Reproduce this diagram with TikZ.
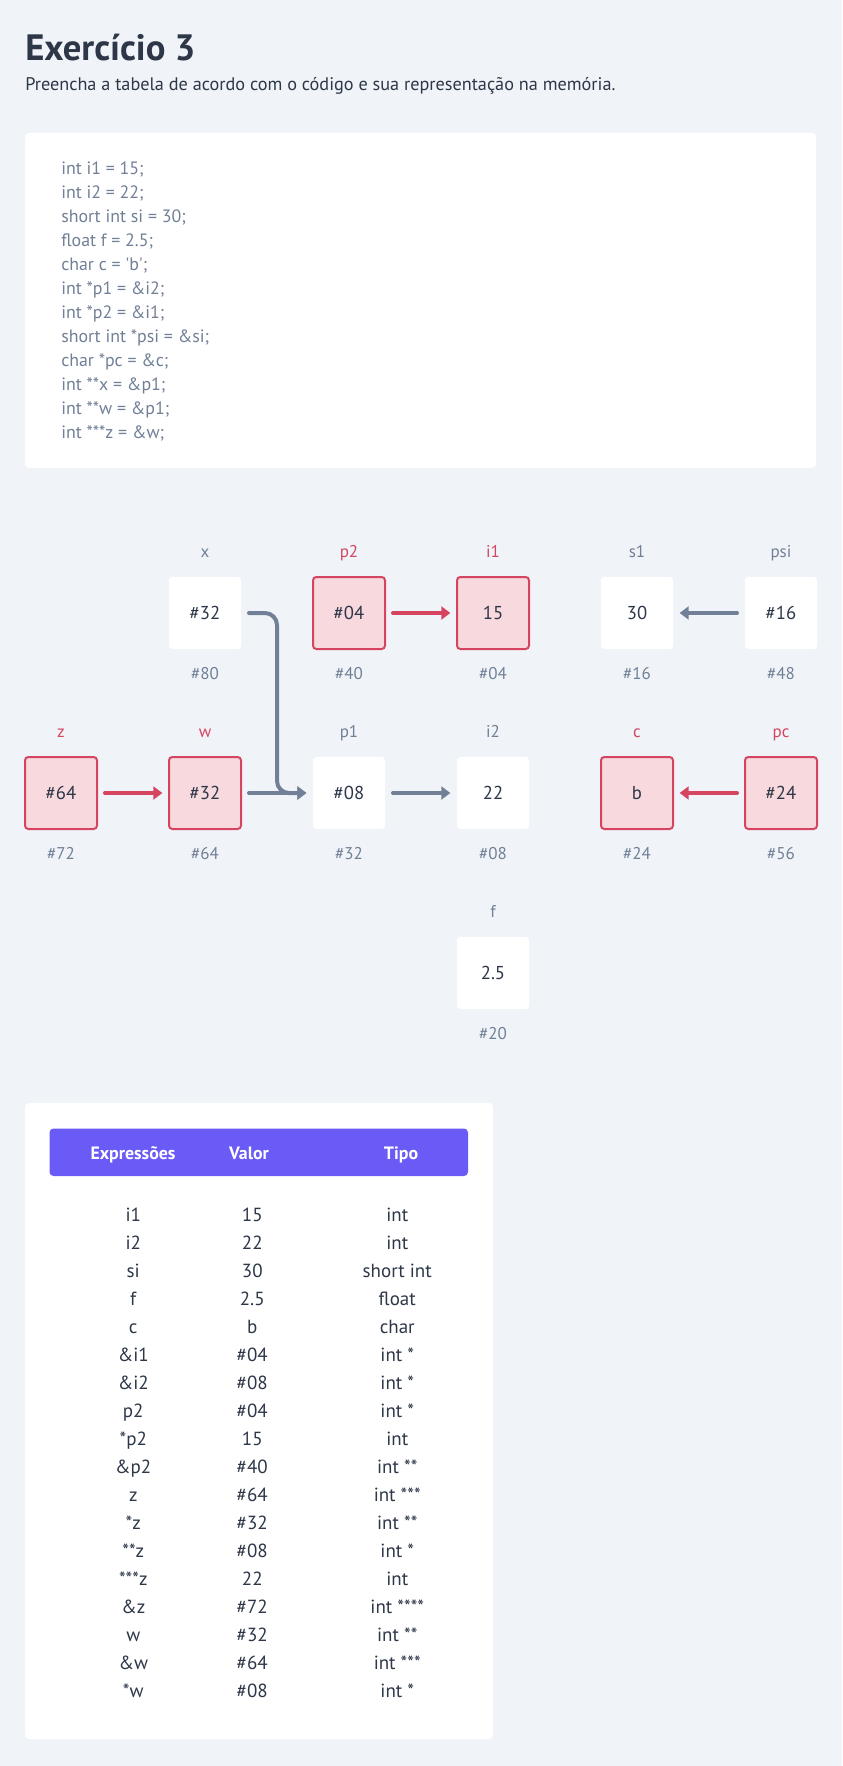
\documentclass[tikz,border=0pt]{standalone}
\usepackage{fontspec}
\setmainfont{PT Sans}
\usepackage{tikz}
\usetikzlibrary{arrows.meta,matrix,calc}
\usepackage{xcolor}
\definecolor{pagebg}{HTML}{F0F4F8}
\definecolor{ink}{HTML}{2D3748}
\definecolor{muted}{HTML}{718096}
\definecolor{alert}{HTML}{D64560}
\definecolor{alertfill}{HTML}{F7D9DE}
\definecolor{violet}{HTML}{6A5AF6}

\begin{document}
\begin{tikzpicture}[x=0.75pt, y=-0.75pt, label distance=13pt,
  >={Triangle[length=6.75pt,width=9.75pt]}]
\tikzstyle{card} = [fill=white, rounded corners=3pt]
\tikzstyle{cell} = [rectangle, fill=white, minimum size=54pt, inner sep=0pt,
outer sep=0pt, rounded corners=2.5pt, text=ink, font=\fontsize{14}{16}\selectfont]
\tikzstyle{hot} = [cell, draw=alert, line width=1.5pt, fill=alertfill]
\tikzstyle{every label} = [text=muted, inner sep=0pt, outer sep=0pt,
text height=9.5pt, text depth=1.8pt, font=\fontsize{12.75}{14}\selectfont]
\tikzstyle{redname} = [text=alert]
\tikzstyle{header} = [anchor=base, text=white, font=\bfseries\fontsize{13.4}{16}\selectfont]
\tikzstyle{line} = [draw=muted, line width=3pt, line cap=round, ->,
shorten <=6pt, shorten >=5pt]

\path [use as bounding box, fill=pagebg] (0,0) rectangle (842,1766);

% heading
\node (title) [anchor=base west, inner sep=0pt, text=ink,
  font=\bfseries\fontsize{27.5}{32}\selectfont] at (25,61) {Exercício 3};
\node (subtitle) [anchor=base west, inner sep=0pt, text=ink,
  font=\fontsize{13.67}{16}\selectfont] at (25,90.7)
  {Preencha a tabela de acordo com o código e sua representação na memória.};

% code
\fill [card] (25,133) rectangle (816,468);
\node (code) [anchor=north west, align=left, inner sep=0pt, text=muted,
  font=\fontsize{13.4}{18}\selectfont] at (61,162)
  {int i1 = 15;\\ int i2 = 22;\\ short int si = 30;\\ float f = 2.5;\\
   char c = \textquotesingle b\textquotesingle;\\ int *p1 = \&i2;\\ int *p2 = \&i1;\\
   short int *psi = \&si;\\ char *pc = \&c;\\ int **x = \&p1;\\
   int **w = \&p1;\\ int ***z = \&w;};

% memory
\matrix (mem) [anchor=north west, inner sep=0pt, outer sep=0pt,
  column sep=52.5pt, row sep=32.4pt] at (24,544.6)
{
% row 1
 & \node [cell, label=above:x, label=below:\#80] (x) {\#32};
 & \node [hot, label={[redname]above:p2}, label=below:\#40] (p2) {\#04};
 & \node [hot, label={[redname]above:i1}, label=below:\#04] (i1) {15};
 & \node [cell, label=above:s1, label=below:\#16] (s1) {30};
 & \node [cell, label=above:psi, label=below:\#48] (psi) {\#16}; \\
% row 2
\node [hot, label={[redname]above:z}, label=below:\#72] (z) {\#64};
 & \node [hot, label={[redname]above:w}, label=below:\#64] (w) {\#32};
 & \node [cell, label=above:p1, label=below:\#32] (p1) {\#08};
 & \node [cell, label=above:i2, label=below:\#08] (i2) {22};
 & \node [hot, label={[redname]above:c}, label=below:\#24] (c) {b};
 & \node [hot, label={[redname]above:pc}, label=below:\#56] (pc) {\#24}; \\
% row 3
 & & & \node [cell, label=above:f, label=below:\#20] (f) {2.5}; & & \\
};

% table
\fill [card] (25,1103) rectangle (493,1739);
\fill [violet, rounded corners=3pt] (49.5,1128.5) rectangle (468,1176);
\node [header] (hexpr) at (133,1159) {Expressões};
\node [header] (hvalor) at (249,1159) {Valor};
\node [header] (htipo) at (401,1159) {Tipo};
\matrix (tbl) [matrix of nodes, anchor=north west, inner sep=0pt,
  nodes={inner sep=0pt, text height=14pt, text depth=7pt, text=ink,
    font=\fontsize{14.25}{17}\selectfont},
  column 1/.style={nodes={minimum width=88.5pt}},
  column 2/.style={nodes={minimum width=90pt}},
  column 3/.style={nodes={minimum width=127.5pt}}] at (74,1202.5)
{
i1 & 15 & int \\
i2 & 22 & int \\
si & 30 & short int \\
f & 2.5 & float \\
c & b & char \\
\&i1 & \#04 & int * \\
\&i2 & \#08 & int * \\
p2 & \#04 & int * \\
*p2 & 15 & int \\
\&p2 & \#40 & int ** \\
z & \#64 & int *** \\
*z & \#32 & int ** \\
**z & \#08 & int * \\
***z & 22 & int \\
\&z & \#72 & int **** \\
w & \#32 & int ** \\
\&w & \#64 & int *** \\
*w & \#08 & int * \\
};

\coordinate (joint) at ($(w)!0.5!(p1)$);
\tikzstyle{every path}=[line]
\path [draw=alert] (z) -- (w);
\path (w) -- (p1);
\path [rounded corners=9pt] (x) -| (joint) -- (p1);
\path [draw=alert] (p2) -- (i1);
\path (p1) -- (i2);
\path (psi) -- (s1);
\path [draw=alert] (pc) -- (c);

\end{tikzpicture}
\end{document}
